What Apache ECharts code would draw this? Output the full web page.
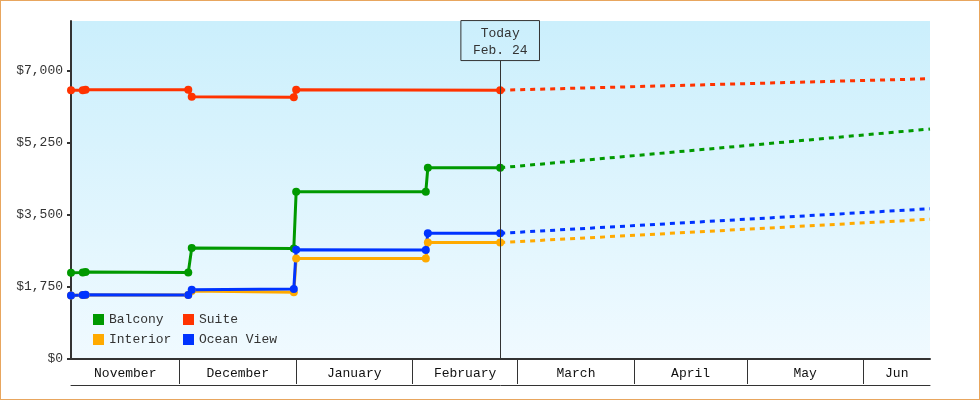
<!DOCTYPE html>
<html>
<head>
<meta charset="utf-8">
<script src="https://cdn.jsdelivr.net/npm/echarts@6/dist/echarts.min.js"></script>
<style>
  html, body { margin: 0; padding: 0; background: #fff; }
  #chart { width: 980px; height: 400px; box-sizing: border-box; border: 1px solid #e8a65e; }
</style>
</head>
<body>
<div id="chart"></div>
<script>
// price history (solid) up to today
const dates = ["2014-11-02T03:00", "2014-11-05T06:00", "2014-11-06", "2014-12-03T08:00", "2014-12-04T06:00",
  "2014-12-31T10:00", "2015-01-01T01:00", "2015-02-04T13:00", "2015-02-05T02:00", "2015-02-24T08:00"];
const suite = [6520, 6520, 6530, 6530, 6360, 6350, 6530, null, null, 6520];
const balcony = [2090, 2100, 2110, 2100, 2690, 2680, 4060, 4055, 4640, 4640];
const interior = [1540, 1550, 1555, 1555, 1650, 1620, 2440, 2440, 2825, 2825];
const oceanView = [1540, 1555, 1560, 1555, 1680, 1700, 2650, 2647, 3050, 3050];

// projection (dashed) from today to the end
const projDates = ["2015-02-24T08:00", "2015-06-18T17:00"];
const suiteProj = [6520, 6800];
const balconyProj = [4640, 5580];
const interiorProj = [2825, 3390];
const oceanViewProj = [3050, 3645];

const today = "2015-02-24T08:00";
const todayLabel = "Today\nFeb. 24";
const todayTop = 7240;

const yTicks = [0, 1750, 3500, 5250, 7000];
const yMax = 8200;

const monthBounds = ["2014-11-01", "2014-12-01", "2015-01-01", "2015-02-01", "2015-03-01",
  "2015-04-01", "2015-05-01", "2015-06-01", "2015-07-01"];
const monthNames = ["November", "December", "January", "February", "March", "April", "May", "Jun"];

const colors = { Suite: "#ff3300", Balcony: "#009900", Interior: "#ffaa00", "Ocean View": "#0033ff" };
const font = "Liberation Mono";

const t = s => +echarts.time.parse(s);
const xMin = t(dates[0]);
const xMax = t(projDates[projDates.length - 1]);

// month separators and centred month names (x axis is a plain value axis of timestamps)
const monthTicks = monthBounds.map(t).filter(v => v > xMin && v < xMax);
const monthMids = monthNames.map((n, i) => {
  const a = Math.max(t(monthBounds[i]), xMin);
  const b = Math.min(t(monthBounds[i + 1]), xMax);
  return Math.round((a + b) / 2);
});

const pair = (ds, vs) => ds.map((d, i) => [t(d), vs[i]]);

function solid(name, vals) {
  return {
    name: name, type: "line", data: pair(dates, vals),
    connectNulls: true, symbol: "circle", symbolSize: 8, showSymbol: true,
    itemStyle: { color: colors[name] },
    lineStyle: { width: 3, color: colors[name] },
    emphasis: { disabled: true }
  };
}
function dashed(name, vals) {
  return {
    name: name, type: "line", data: pair(projDates, vals),
    showSymbol: false, symbol: "none",
    itemStyle: { color: colors[name] },
    lineStyle: { width: 3, type: [5, 5], color: colors[name] },
    emphasis: { disabled: true }
  };
}

const chart = echarts.init(document.getElementById("chart"));
const suiteSeries = solid("Suite", suite);
suiteSeries.markLine = {
  silent: true, symbol: "none", animation: false,
  lineStyle: { color: "#333", width: 1, type: "solid" },
  label: {
    show: true, position: "end", distance: 0,
    formatter: todayLabel, color: "#333", fontFamily: font, fontSize: 13,
    lineHeight: 17, padding: [4, 12, 2, 12], borderColor: "#333", borderWidth: 1,
    align: "center"
  },
  data: [[{ coord: [t(today), 0] }, { coord: [t(today), todayTop] }]]
};

const legendBase = {
  orient: "vertical", icon: "rect", itemWidth: 11, itemHeight: 11, itemGap: 7,
  itemTextGap: 0, selectedMode: false, padding: 0,
  textStyle: { color: "#333", fontFamily: font, fontSize: 13 }
};

chart.setOption({
  animation: false,
  textStyle: { fontFamily: font },
  grid: {
    left: 70, right: 49, top: 20, bottom: 40, show: true, borderWidth: 0,
    backgroundColor: new echarts.graphic.LinearGradient(0, 0, 0, 1, [
      { offset: 0, color: "#cbeffc" }, { offset: 1, color: "#f0faff" }
    ])
  },
  legend: [
    Object.assign({}, legendBase, { left: 92, top: 312, data: ["Balcony", "Interior"] }),
    Object.assign({}, legendBase, { left: 182, top: 312, data: ["Suite", "Ocean View"] })
  ],
  xAxis: [
    {
      type: "value", min: xMin, max: xMax, scale: true,
      axisLine: { show: true, lineStyle: { color: "#333", width: 2 } },
      axisTick: { show: true, customValues: monthTicks, length: 25, lineStyle: { color: "#333", width: 1 } },
      axisLabel: {
        show: true, customValues: monthMids, margin: 8, color: "#111", fontFamily: font, fontSize: 13,
        formatter: v => monthNames[monthMids.indexOf(v)] || ""
      },
      splitLine: { show: false }
    },
    {
      type: "value", min: xMin, max: xMax, scale: true, position: "bottom", offset: 26,
      axisLine: { show: true, lineStyle: { color: "#333", width: 1 } },
      axisTick: { show: false }, axisLabel: { show: false }, splitLine: { show: false }
    }
  ],
  yAxis: {
    type: "value", min: 0, max: yMax,
    axisLine: { show: true, lineStyle: { color: "#333", width: 2 } },
    axisTick: { show: true, customValues: yTicks, length: 4, lineStyle: { color: "#333", width: 2 } },
    axisLabel: {
      customValues: yTicks, margin: 8, color: "#333", fontFamily: font, fontSize: 13,
      formatter: v => "$" + v.toLocaleString("en-US")
    },
    splitLine: { show: false }
  },
  series: [
    suiteSeries, dashed("Suite", suiteProj),
    solid("Balcony", balcony), dashed("Balcony", balconyProj),
    solid("Interior", interior), dashed("Interior", interiorProj),
    solid("Ocean View", oceanView), dashed("Ocean View", oceanViewProj)
  ]
});
</script>
</body>
</html>
